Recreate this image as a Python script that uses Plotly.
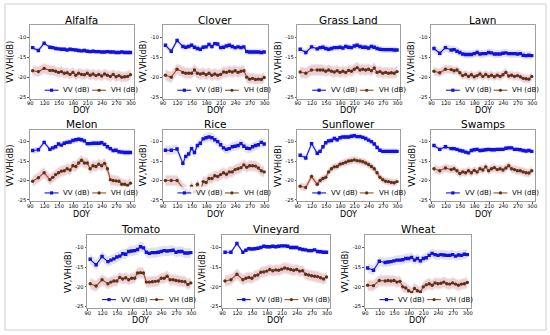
import plotly.graph_objects as go

# ---------------- data ----------------
doy = [95, 107, 119, 131, 137, 143, 149, 155, 161, 167, 173, 179, 185, 191, 197, 203,
       209, 215, 221, 227, 233, 239, 245, 251, 257, 263, 269, 275, 281, 287, 293, 299]

titles = ["Alfalfa", "Clover", "Grass Land", "Lawn", "Melon", "Rice",
          "Sunflower", "Swamps", "Tomato", "Vineyard", "Wheat"]

x_ticks = [90, 120, 150, 180, 210, 240, 270, 300]
y_ticks = [-10, -15, -20, -25]
y_tick_labels = ["-10", "-15", "-20", "-25"]

alfalfa_vv = [-12.6, -13.3, -11.5, -12.5, -12.6, -12.8, -12.9, -13.0, -13.0, -13.2,
              -13.0, -13.1, -13.2, -13.3, -13.4, -13.3, -13.5, -13.6, -13.5, -13.6,
              -13.6, -13.7, -13.7, -13.6, -13.7, -13.7, -13.8, -13.8, -13.7, -13.8,
              -13.8, -13.8]
alfalfa_vh = [-18.4, -18.6, -17.8, -18.3, -18.3, -18.5, -18.8, -18.6, -19.0, -18.9,
              -19.3, -18.8, -19.5, -19.0, -19.3, -19.4, -19.0, -19.5, -19.2, -19.6,
              -19.3, -19.7, -19.2, -19.5, -19.8, -19.3, -19.9, -19.6, -20.0, -19.9,
              -19.8, -19.4]
clover_vv = [-12.0, -13.5, -10.8, -12.3, -12.5, -12.3, -12.0, -12.5, -12.8, -13.0,
             -12.5, -12.4, -11.8, -12.3, -11.6, -11.7, -12.6, -12.5, -12.2, -12.0,
             -12.3, -12.6, -12.4, -12.6, -12.4, -13.6, -13.7, -13.7, -13.7, -13.7,
             -13.8, -13.7]
clover_vh = [-19.5, -20.0, -18.0, -18.8, -19.0, -19.0, -19.0, -18.2, -19.0, -19.2,
             -19.0, -19.4, -19.0, -19.5, -19.2, -19.5, -19.3, -18.7, -18.8, -18.5,
             -18.7, -18.4, -18.8, -18.5, -18.4, -20.0, -20.5, -20.3, -20.6, -20.5,
             -20.6, -20.1]
grass_vv = [-13.0, -13.8, -12.4, -12.9, -12.6, -12.5, -12.8, -13.0, -12.8, -12.6,
            -12.6, -12.5, -12.7, -12.3, -12.5, -12.6, -12.2, -12.0, -12.3, -12.5,
            -12.5, -12.7, -12.3, -12.5, -12.8, -13.0, -13.1, -13.1, -13.1, -13.1,
            -13.2, -13.2]
grass_vh = [-18.7, -19.0, -18.2, -18.2, -18.2, -18.2, -18.5, -18.2, -18.5, -18.7,
            -18.4, -18.8, -18.5, -18.8, -18.3, -18.5, -18.0, -17.6, -18.2, -18.0,
            -18.2, -18.0, -18.4, -17.7, -18.8, -18.6, -19.0, -18.8, -19.0, -18.9,
            -19.0, -18.6]
lawn_vv = [-12.8, -14.0, -12.6, -13.2, -13.1, -13.5, -13.8, -14.2, -14.3, -14.3,
           -14.3, -14.1, -13.8, -14.2, -14.1, -14.1, -13.8, -13.9, -14.2, -14.2,
           -14.2, -14.0, -13.9, -14.1, -14.1, -14.1, -14.2, -14.1, -14.5, -14.6,
           -14.5, -14.6]
lawn_vh = [-18.5, -18.9, -18.0, -18.1, -18.4, -18.2, -18.9, -19.6, -19.3, -19.8,
           -19.4, -19.9, -19.6, -19.2, -19.8, -19.3, -19.8, -19.5, -19.9, -19.5,
           -19.8, -19.4, -18.8, -19.7, -19.5, -19.8, -19.6, -19.9, -20.3, -20.4,
           -20.5, -19.8]
melon_vv = [-12.3, -12.1, -10.2, -12.0, -11.6, -11.3, -10.6, -10.9, -10.4, -10.2,
            -10.1, -9.7, -9.5, -9.4, -9.5, -9.8, -10.5, -10.5, -10.4, -10.4,
            -10.4, -10.3, -10.7, -11.3, -11.8, -12.3, -12.2, -12.6, -12.7, -12.8,
            -12.8, -12.8]
melon_vh = [-20.2, -19.3, -18.0, -19.8, -19.2, -18.5, -18.0, -17.6, -17.5, -17.0,
            -17.3, -16.2, -16.4, -15.5, -14.8, -15.5, -15.5, -17.0, -16.2, -16.4,
            -15.8, -16.2, -15.6, -17.0, -19.8, -20.0, -20.1, -20.2, -21.0, -21.0,
            -21.3, -20.7]
rice_vv = [-12.2, -12.2, -11.9, -15.6, -13.8, -13.2, -11.8, -12.8, -11.0, -10.4,
           -9.3, -9.0, -8.8, -9.0, -9.5, -10.0, -10.8, -11.6, -12.0, -11.8,
           -11.3, -11.2, -11.0, -10.5, -11.2, -11.7, -11.8, -11.3, -11.0, -10.8,
           -10.2, -10.6]
rice_vh = [-20.0, -20.0, -20.0, -22.0, -22.5, -23.0, -21.5, -23.0, -21.0, -23.0,
           -20.3, -20.5, -19.5, -19.5, -18.8, -19.0, -18.5, -18.0, -18.4, -17.8,
           -17.8, -17.2, -17.0, -16.7, -16.0, -16.6, -16.2, -16.2, -16.3, -16.8,
           -17.5, -17.8]
sunflower_vv = [-13.5, -14.2, -10.5, -13.0, -12.5, -11.3, -10.3, -9.8, -9.7, -9.2,
                -9.5, -9.0, -8.8, -8.8, -8.8, -8.6, -8.5, -8.7, -8.7, -8.9,
                -9.2, -9.6, -10.0, -10.6, -11.5, -12.2, -12.5, -12.5, -12.5, -12.5,
                -12.5, -12.5]
sunflower_vh = [-21.5, -21.8, -19.0, -21.0, -20.0, -19.5, -19.2, -17.8, -17.0, -16.5,
                -16.4, -15.8, -15.6, -15.3, -15.0, -14.9, -14.7, -14.9, -15.0, -15.2,
                -15.5, -15.9, -16.4, -17.0, -18.0, -19.2, -19.8, -20.2, -20.3, -20.5,
                -20.6, -20.3]
swamps_vv = [-11.0, -12.0, -11.3, -11.8, -11.8, -12.0, -12.3, -12.4, -12.7, -12.9,
             -12.3, -12.1, -12.0, -12.3, -12.2, -12.1, -12.0, -12.1, -12.1, -12.0,
             -12.0, -12.0, -11.7, -11.6, -11.6, -12.0, -12.0, -12.1, -12.3, -12.4,
             -12.3, -12.5]
swamps_vh = [-17.0, -17.5, -16.8, -17.2, -17.0, -17.5, -18.2, -17.8, -18.0, -17.5,
             -18.0, -17.4, -17.8, -17.0, -17.3, -16.5, -17.5, -17.0, -16.7, -17.2,
             -17.0, -17.3, -16.8, -16.2, -17.0, -17.2, -17.5, -17.5, -17.8, -18.0,
             -18.1, -17.5]
tomato_vv = [-13.0, -14.4, -12.3, -13.6, -13.2, -12.9, -12.4, -12.2, -11.6, -11.7,
             -11.0, -10.9, -10.8, -10.5, -9.8, -10.1, -11.2, -11.5, -11.3, -11.3,
             -11.2, -11.0, -10.8, -10.9, -10.8, -10.7, -11.2, -11.0, -11.0, -11.4,
             -11.4, -11.3]
tomato_vh = [-19.2, -19.8, -18.2, -19.2, -18.8, -18.5, -18.5, -17.6, -18.0, -17.7,
             -18.2, -17.8, -17.8, -16.5, -16.4, -16.5, -18.8, -18.8, -18.7, -18.6,
             -18.5, -17.8, -17.8, -17.3, -18.2, -18.2, -18.4, -18.5, -18.6, -18.7,
             -19.4, -19.0]
vineyard_vv = [-11.2, -11.2, -9.0, -11.2, -10.7, -10.3, -10.4, -10.3, -10.2, -10.0,
               -9.7, -9.8, -9.8, -9.7, -9.8, -9.7, -9.6, -9.6, -9.7, -10.0,
               -10.0, -10.0, -10.3, -10.5, -10.6, -10.8, -10.8, -10.6, -11.0, -11.1,
               -11.2, -11.2]
vineyard_vh = [-18.5, -18.2, -16.8, -18.2, -17.8, -17.6, -17.8, -17.2, -17.0, -16.3,
               -16.2, -16.0, -15.6, -15.9, -15.7, -15.8, -15.5, -15.2, -15.4, -15.6,
               -15.8, -15.6, -16.0, -15.9, -16.8, -17.0, -17.2, -17.3, -17.4, -17.7,
               -18.0, -17.5]
wheat_vv = [-15.2, -15.8, -13.5, -13.8, -13.7, -13.6, -13.4, -13.2, -13.2, -13.1,
            -12.8, -12.8, -12.5, -13.2, -12.8, -13.4, -12.8, -12.6, -12.0, -11.5,
            -11.8, -12.0, -11.8, -11.9, -12.0, -12.0, -11.8, -12.2, -11.9, -12.0,
            -11.7, -11.8]
wheat_vh = [-19.6, -19.7, -18.4, -18.5, -18.4, -18.5, -18.4, -18.8, -18.6, -20.0,
            -20.3, -21.0, -21.5, -20.4, -21.0, -21.3, -20.0, -19.5, -19.2, -19.6,
            -19.0, -19.2, -19.1, -18.8, -19.2, -19.3, -19.0, -19.3, -19.6, -19.3,
            -19.2, -18.9]

# spread (std, dB) of each class, VV and VH
vv_spread = [0.6, 0.8, 0.8, 1.0, 0.8, 1.2, 0.8, 0.7, 1.3, 0.6, 1.2]
vh_spread = [1.2, 1.3, 1.3, 1.0, 1.3, 1.3, 0.9, 1.0, 1.3, 1.3, 1.3]

vv_series = [alfalfa_vv, clover_vv, grass_vv, lawn_vv, melon_vv, rice_vv,
             sunflower_vv, swamps_vv, tomato_vv, vineyard_vv, wheat_vv]
vh_series = [alfalfa_vh, clover_vh, grass_vh, lawn_vh, melon_vh, rice_vh,
             sunflower_vh, swamps_vh, tomato_vh, vineyard_vh, wheat_vh]

# ---------------- layout (pixels) ----------------
W, H = 550, 335
frames = [(27, 132, 25, 99), (161, 267, 25, 99), (297, 401, 25, 99), (432, 537, 25, 99),
          (27, 132, 130, 202), (161, 267, 130, 202), (297, 401, 130, 202), (432, 537, 130, 202),
          (85, 193, 236, 309), (221, 330, 236, 309), (365, 472, 236, 309)]
title_y = {25: 20, 130: 124, 236: 230}
doy_y = {25: 111, 130: 215, 236: 321.5}

FONT = "DejaVu Sans"
VV_COLOR = "#1010e8"
VH_LINE = "#9c4f1c"
VH_MARK = "#5b3214"
GREY_BAND = "rgba(140,140,140,0.24)"
GREY_BAND_VH = "rgba(140,140,140,0.18)"
PINK_BAND = "rgba(255,140,165,0.30)"


def fx(p):
    return p / W


def fy(p):
    return 1 - p / H


fig = go.Figure()
layout = dict(width=W, height=H, margin=dict(l=0, r=0, t=0, b=0),
              paper_bgcolor="white", plot_bgcolor="white", showlegend=False,
              font=dict(family=FONT, color="black"))
shapes, annotations = [], []

for i, (name, vv, vh) in enumerate(zip(titles, vv_series, vh_series)):
    n = "" if i == 0 else str(i + 1)
    xa, ya = "x" + n, "y" + n
    x0, x1, y0, y1 = frames[i]
    s_vv, s_vh = vv_spread[i], vh_spread[i]

    def band(vals, s, color):
        fig.add_trace(go.Scatter(x=doy, y=[v + s for v in vals], mode="lines",
                                 line=dict(width=0), xaxis=xa, yaxis=ya, hoverinfo="skip"))
        fig.add_trace(go.Scatter(x=doy, y=[v - s for v in vals], mode="lines",
                                 line=dict(width=0), fill="tonexty", fillcolor=color,
                                 xaxis=xa, yaxis=ya, hoverinfo="skip"))
    band(vv, s_vv, GREY_BAND)
    band(vh, s_vh * 1.15, GREY_BAND_VH)
    band(vh, s_vh * 0.9, PINK_BAND)

    fig.add_trace(go.Scatter(x=doy, y=vv, mode="lines+markers", name="VV (dB)",
                             line=dict(color=VV_COLOR, width=1.1),
                             marker=dict(symbol="square", size=3.4, color=VV_COLOR),
                             xaxis=xa, yaxis=ya))
    fig.add_trace(go.Scatter(x=doy, y=vh, mode="lines+markers", name="VH (dB)",
                             line=dict(color=VH_LINE, width=1.1),
                             marker=dict(symbol="circle", size=3.4, color=VH_MARK),
                             xaxis=xa, yaxis=ya))

    axis_common = dict(showline=True, mirror=True, linecolor="#a0a0a0", linewidth=1,
                       showgrid=False, zeroline=False, ticks="outside", ticklen=1.5,
                       tickwidth=0.8, tickcolor="#555", tickangle=0,
                       tickfont=dict(size=5.2, family=FONT))
    layout["xaxis" + n] = dict(axis_common, domain=[fx(x0), fx(x1)], range=[89, 306],
                               tickvals=x_ticks, anchor=ya, ticklabelstandoff=-2)
    layout["yaxis" + n] = dict(axis_common, domain=[fy(y1), fy(y0)], range=[-25.4, -6.9],
                               tickvals=y_ticks, ticktext=y_tick_labels, anchor=xa)

    cx = (x0 + x1) / 2
    annotations.append(dict(text=name, x=fx(cx), y=fy(title_y[y0]), xref="paper", yref="paper",
                            showarrow=False, xanchor="center", yanchor="middle",
                            font=dict(size=10.5, family=FONT)))
    annotations.append(dict(text="DOY", x=fx(cx), y=fy(doy_y[y0]), xref="paper", yref="paper",
                            showarrow=False, xanchor="center", yanchor="middle",
                            font=dict(size=8, family=FONT)))
    annotations.append(dict(text="VV,VH(dB)", x=fx(x0 - 19), y=fy((y0 + y1) / 2),
                            xref="paper", yref="paper", showarrow=False, textangle=-90,
                            xanchor="center", yanchor="middle", font=dict(size=8, family=FONT)))

    # legend (drawn inside the bottom of the axes)
    ly = y1 - 8.5
    shapes.append(dict(type="rect", xref="paper", yref="paper", layer="above",
                       x0=fx(x0 + 10), x1=fx(x1 - 1), y0=fy(y1 - 2), y1=fy(y1 - 15),
                       fillcolor="rgba(255,255,255,0.85)", line=dict(width=0)))
    for off, col, mcol, sym, lab in [(15, VV_COLOR, VV_COLOR, "rect", "VV (dB)"),
                                      (63, VH_LINE, VH_MARK, "circle", "VH (dB)")]:
        shapes.append(dict(type="line", xref="paper", yref="paper", layer="above",
                           x0=fx(x0 + off), x1=fx(x0 + off + 14), y0=fy(ly), y1=fy(ly),
                           line=dict(color=col, width=1.1)))
        m = x0 + off + 7
        shapes.append(dict(type=sym, xref="paper", yref="paper", layer="above",
                           x0=fx(m - 1.6), x1=fx(m + 1.6), y0=fy(ly - 1.6), y1=fy(ly + 1.6),
                           fillcolor=mcol, line=dict(width=0)))
        annotations.append(dict(text=lab, x=fx(x0 + off + 17), y=fy(ly), xref="paper",
                                yref="paper", showarrow=False, xanchor="left",
                                yanchor="middle", font=dict(size=7, family=FONT)))

# outer border of the figure
shapes.append(dict(type="rect", xref="paper", yref="paper", x0=fx(2), x1=fx(548),
                   y0=fy(331), y1=fy(4), line=dict(color="#cfcfcf", width=1)))

layout["shapes"] = shapes
layout["annotations"] = annotations
fig.update_layout(**layout)
fig.write_html("out.html", config={"displayModeBar": False},
               post_script="document.body.style.margin='0px';")
